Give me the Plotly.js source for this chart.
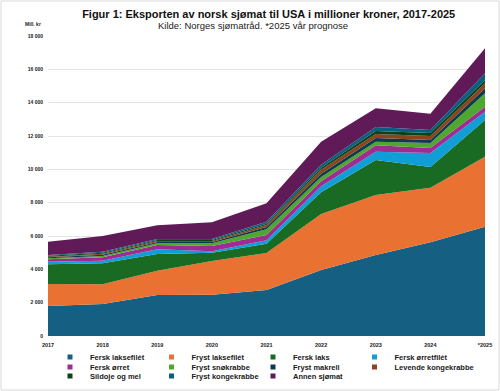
<!DOCTYPE html>
<html>
<head>
<meta charset="utf-8">
<script src="https://cdn.plot.ly/plotly-3.0.1.min.js"></script>
<style>html,body{margin:0;padding:0;background:#fff;}#chart{width:500px;height:391px;}</style>
</head>
<body>
<div id="chart"></div>
<script>
// Categories (years)
const years = ['2017','2018','2019','2020','2021','2022','2023','2024','*2025'];

// Series names
const seriesNames = ['Fersk laksefilét','Fryst laksefilét','Fersk laks','Fersk ørretfilét','Fersk ørret','Fryst snøkrabbe','Fryst makrell','Levende kongekrabbe','Sildoje og mel','Fryst kongekrabbe','Annen sjømat'];

// Values, million NOK
const ferskLaksefilet   = [1800, 1920, 2460, 2480, 2760, 3960, 4860, 5620, 6560];
const frystLaksefilet   = [1320, 1180, 1460, 2020, 2220, 3360, 3600, 3280, 4200];
const ferskLaks         = [1180, 1260, 1000,  500,  560, 1300, 2100, 1240, 2200];
const ferskOrretfilet   = [ 160,  160,  280,   80,  200,  360,  500,  840,  500];
const ferskOrret        = [ 140,  200,  260,  320,  320,  300,  380,  300,  300];
const frystSnokrabbe    = [  60,   80,  100,  160,  340,  260,  220,  300,  800];
const frystMakrell      = [  60,   80,   80,   80,  140,  200,  220,  180,  300];
const levendeKongekrabbe= [  40,   60,   60,   60,  120,  240,  240,  240,  300];
const sildojeOgMel      = [  60,   60,   60,   60,   80,  120,  180,  180,  200];
const frystKongekrabbe  = [  40,   60,   60,   60,  120,  180,  240,  180,  400];
const annenSjomat       = [ 800,  940,  820, 1000, 1100, 1380, 1120,  980, 1500];

const seriesValues = [ferskLaksefilet, frystLaksefilet, ferskLaks, ferskOrretfilet, ferskOrret,
  frystSnokrabbe, frystMakrell, levendeKongekrabbe, sildojeOgMel, frystKongekrabbe, annenSjomat];

const colors = ['#156082','#E97132','#196B24','#0F9ED5','#A02B93','#4EA72E','#0D3A4E','#8C441E','#0F4016','#095F80','#601A58'];

const yTicks = [0,2000,4000,6000,8000,10000,12000,14000,16000,18000];

const FONT = 'Liberation Sans Narrow, Liberation Sans, Arial, sans-serif';
const legendIds = ['legend','legend','legend','legend','legend2','legend2','legend2','legend2','legend3','legend3','legend3'];

// Stacked areas
const areaTraces = seriesNames.map((name, i) => ({
  type: 'scatter',
  x: years,
  y: seriesValues[i],
  name: name,
  stackgroup: 'one',
  mode: 'none',
  fillcolor: colors[i],
  line: {width: 0},
  showlegend: false,
  hoverinfo: 'x+y+name'
}));

// Legend entries (small square swatches, like the reference)
const legendTraces = seriesNames.map((name, i) => {
  const t = {
    type: 'scatter',
    x: [null],
    y: [null],
    name: name,
    mode: 'markers',
    marker: {symbol: 'square', size: 5, color: colors[i]},
    legend: legendIds[i],
    showlegend: true,
    hoverinfo: 'skip'
  };
  if ((i % 4) === 3) t.legendwidth = 90; // last column: room for long names
  return t;
});

function legendAt(yPx) {
  return {
    orientation: 'h',
    xref: 'container', yref: 'container',
    x: 50/500, xanchor: 'left',
    y: 1 - yPx/391, yanchor: 'middle',
    traceorder: 'normal',
    entrywidth: 56.5, entrywidthmode: 'pixels',
    font: {family: FONT, size: 7.5, color: '#1a1a1a', weight: 'bold'},
    bgcolor: 'rgba(0,0,0,0)',
    borderwidth: 0,
    itemclick: false, itemdoubleclick: false
  };
}

const layout = {
  width: 500, height: 391,
  margin: {l: 48, r: 15, t: 36, b: 55, autoexpand: false},
  paper_bgcolor: '#ffffff',
  plot_bgcolor: '#ffffff',
  separators: ', ',
  font: {family: FONT, color: '#222'},
  title: {
    text: '<b>Figur 1: Eksporten av norsk sjømat til USA i millioner kroner, 2017-2025</b>',
    font: {family: FONT, size: 11, color: '#111'},
    x: 0.505, xanchor: 'center', xref: 'paper',
    y: 1 - 14/391, yanchor: 'middle', yref: 'container'
  },
  annotations: [
    {text: 'Kilde: Norges sjømatråd. *2025 vår prognose', xref: 'paper', yref: 'paper',
     x: 0.47, y: (336-26)/300, xanchor: 'center', yanchor: 'middle', showarrow: false,
     font: {family: FONT, size: 9.5, color: '#222'}},
    {text: '<b>Mill. kr</b>', xref: 'paper', yref: 'paper',
     x: (33-48)/437, y: (336-24)/300, xanchor: 'center', yanchor: 'middle', showarrow: false,
     font: {family: FONT, size: 5, color: '#222'}}
  ],
  shapes: [
    {type: 'rect', xref: 'paper', yref: 'paper',
     x0: (1-48)/437, x1: (499-48)/437, y0: (336-390)/300, y1: (336-1)/300,
     line: {color: '#d9d9d9', width: 1}, fillcolor: 'rgba(0,0,0,0)', layer: 'below'}
  ],
  xaxis: {
    type: 'category',
    range: [0, 8],
    showgrid: false, zeroline: false, showline: false,
    ticks: '', tickfont: {family: FONT, size: 5.5, color: '#222', weight: 'bold'},
    ticklabelstandoff: 4,
    fixedrange: true
  },
  yaxis: {
    range: [0, 18000],
    tickvals: yTicks,
    tickformat: ',d',
    showgrid: true, gridcolor: '#e4e4e4', gridwidth: 1,
    zeroline: false, showline: false, ticks: '',
    tickfont: {family: FONT, size: 5, color: '#222', weight: 'bold'},
    ticklabelstandoff: 4,
    fixedrange: true
  },
  legend: legendAt(357),
  legend2: legendAt(367),
  legend3: legendAt(376),
  showlegend: true
};

Plotly.newPlot('chart', areaTraces.concat(legendTraces), layout, {displayModeBar: false, staticPlot: true});
</script>
</body>
</html>
